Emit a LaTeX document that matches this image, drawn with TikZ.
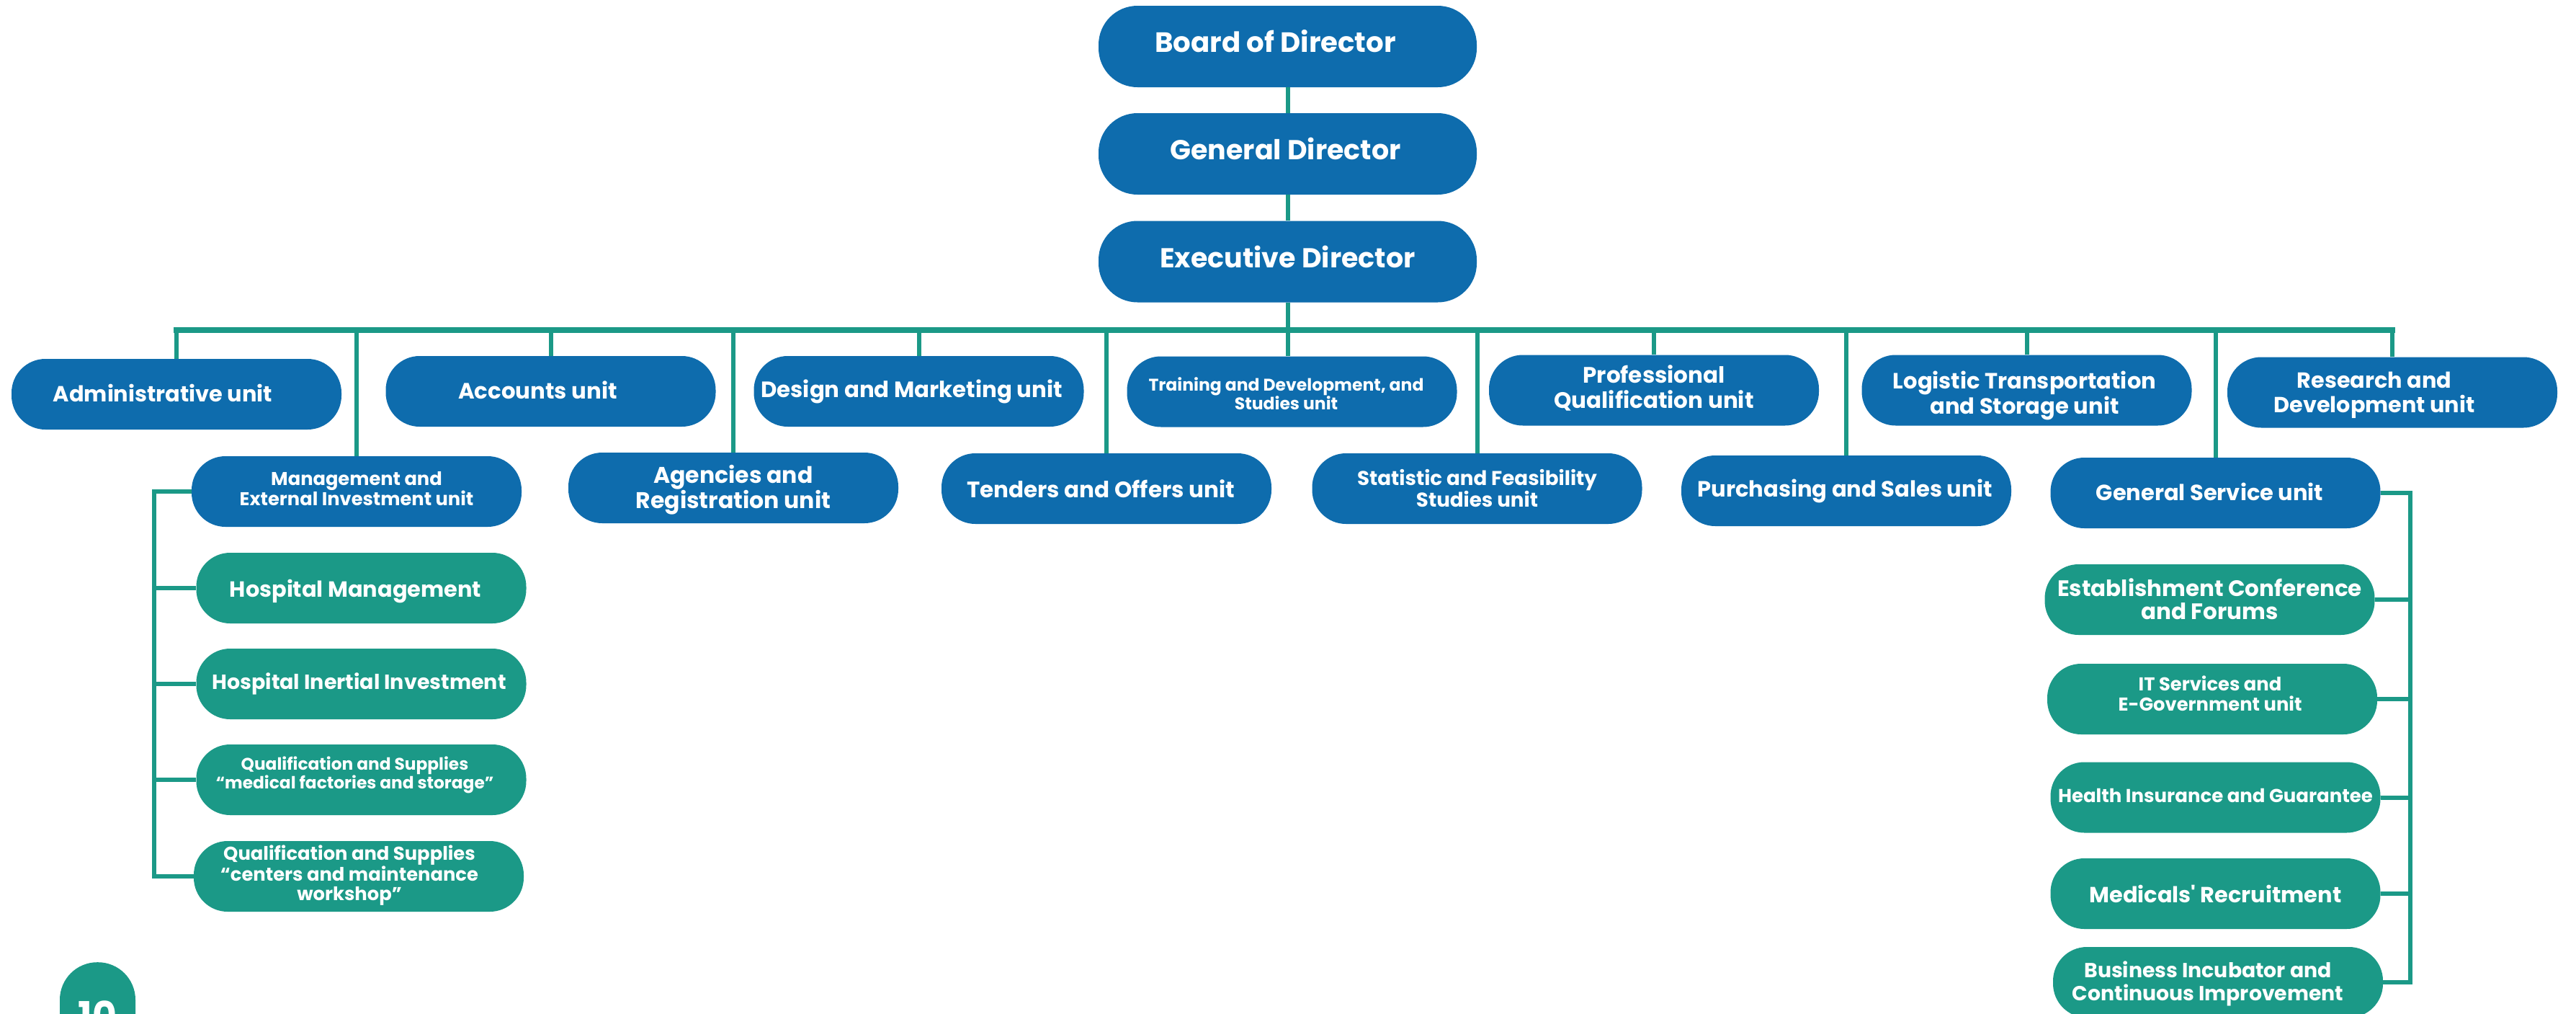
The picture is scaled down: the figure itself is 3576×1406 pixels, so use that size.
\documentclass[tikz,border=0pt]{standalone}
\usepackage{fontspec}
\setmainfont{Poppins}
\definecolor{cblue}{RGB}{14,108,173}
\definecolor{cteal}{RGB}{27,153,135}
\newcommand\ufont[2]{\fontsize{#1}{#2}\selectfont\bfseries}
% shift the printed text inside its box: #1 right, #2 up
\newcommand\mv[3]{\raisebox{#2}[\height][\depth]{\hspace*{#1}#3\hspace*{-#1}}}
\newcommand\ml[1]{\begin{tabular}{@{}c@{}}#1\end{tabular}}
\tikzset{
  unitbox/.style={rectangle, rounded corners=47pt, minimum width=458pt, minimum height=98pt,
    inner sep=0pt, text=white, fill=cblue},
  subbox/.style={unitbox, fill=cteal},
  dirbox/.style={unitbox, minimum width=525pt, minimum height=113pt, rounded corners=54pt,
    font={\ufont{38}{40}}},
  link/.style={draw=cteal, line width=6pt, line join=miter},
  busline/.style={draw=cteal, line width=8pt, line cap=rect},
}
\begin{document}
\begin{tikzpicture}[x=1pt,y=-1pt]
\useasboundingbox (0,0) rectangle (3576,1406);
\clip (0,0) rectangle (3576,1406);
\fill[white] (0,0) rectangle (3576,1406);

% directors
\node[dirbox, font={\ufont{38.7}{40}}] (board) at (1787.5,64.5) {\mv{-17pt}{7pt}{Board of Director}};
\node[dirbox] (gen) at (1787.5,213.5) {\mv{-3pt}{7pt}{General Director}};
\node[dirbox] (exec) at (1787.5,363) {\mv{0pt}{7pt}{Executive Director}};

% top row units
\node[unitbox, font={\ufont{30.4}{32}}] (admin) at (245,547) {\mv{-19pt}{2pt}{Administrative unit}};
\node[unitbox, font={\ufont{30.8}{32}}] (acc) at (764.5,543) {\mv{-18pt}{2pt}{Accounts unit}};
\node[unitbox, font={\ufont{30.8}{32}}] (design) at (1275.5,543) {\mv{-10pt}{0pt}{Design and Marketing unit}};
\node[unitbox, font={\ufont{23.5}{24}}] (train) at (1793.5,543.5) {\mv{-8pt}{-6pt}{\ml{Training and Development, and\\Studies unit}}};
\node[unitbox, font={\ufont{31}{32}}] (prof) at (2296,541.5) {\mv{0pt}{0pt}{\ml{Professional\\Qualification unit}}};
\node[unitbox, font={\ufont{30.6}{32}}] (logi) at (2813.5,541.5) {\mv{-3pt}{-8pt}{\ml{Logistic Transportation\\and Storage unit}}};
\node[unitbox, font={\ufont{30.3}{32}}] (res) at (3321,544.5) {\mv{-25pt}{-5pt}{\ml{Research and\\Development unit}}};

% second row units
\node[unitbox, font={\ufont{25.7}{25.5}}] (mgmt) at (495,682) {\mv{0pt}{0pt}{\ml{Management and\\External Investment unit}}};
\node[unitbox, font={\ufont{31.5}{32}}] (agen) at (1018,677) {\mv{0pt}{-3pt}{\ml{Agencies and\\Registration unit}}};
\node[unitbox, font={\ufont{31}{32}}] (tend) at (1536,678) {\mv{-8pt}{0pt}{Tenders and Offers unit}};
\node[unitbox, font={\ufont{27.7}{26}}] (stat) at (2050.5,678) {\mv{0pt}{-3pt}{\ml{Statistic and Feasibility\\Studies unit}}};
\node[unitbox, font={\ufont{30.6}{32}}] (purch) at (2563,681) {\mv{-2pt}{0pt}{Purchasing and Sales unit}};
\node[unitbox, font={\ufont{30.5}{32}}] (gs) at (3075.5,684) {\mv{-8pt}{2pt}{General Service unit}};

% left sub units
\node[subbox, font={\ufont{30.4}{32}}] (hm) at (501.5,816) {\mv{-8pt}{-4pt}{Hospital Management}};
\node[subbox, font={\ufont{28.5}{30}}] (hii) at (501.5,949) {\mv{-3pt}{0pt}{Hospital Inertial Investment}};
\node[subbox, font={\ufont{23.3}{24}}] (qa) at (501.5,1082) {\mv{-9pt}{6pt}{\ml{Qualification and Supplies\\“medical factories and storage”}}};
\node[subbox, font={\ufont{25.8}{26}}] (qb) at (498,1216) {\mv{-13pt}{1pt}{\ml{Qualification and Supplies\\“centers and maintenance\\workshop”}}};

% right sub units
\node[subbox, font={\ufont{31}{32}}] (est) at (3067.5,832) {\mv{0pt}{-4pt}{\ml{Establishment Conference\\and Forums}}};
\node[subbox, font={\ufont{25.8}{26}}] (it) at (3071,970) {\mv{-3pt}{4pt}{\ml{IT Services and\\E-Government unit}}};
\node[subbox, font={\ufont{26}{27}}] (health) at (3075.5,1106.5) {\mv{0pt}{3pt}{Health Insurance and Guarantee}};
\node[subbox, font={\ufont{30.4}{32}}] (med) at (3075.5,1240) {\mv{0pt}{0pt}{Medicals\textquotesingle{} Recruitment}};
\node[subbox, font={\ufont{28.3}{31}}] (biz) at (3079,1363) {\mv{-14pt}{-3pt}{\ml{Business Incubator and\\Continuous Improvement}}};

% page badge
\node[rectangle, rounded corners=52pt, fill=cteal, minimum width=105pt, minimum height=200pt,
  anchor=north, inner sep=0pt] (pg) at (135.5,1335) {};
\node[text=white, font={\ufont{52}{52}}, anchor=north, inner sep=0pt] (pgnum) at (135.5,1389) {10};

% connectors
\coordinate (busy) at (0,458);
\coordinate (lb) at (214,0);
\coordinate (rb) at (3346,0);
\draw[link] (board.south) -- (gen.north);
\draw[link] (gen.south) -- (exec.north);
\draw[link] (exec.south) -- (exec.south |- busy);
\draw[busline] (admin.north |- busy) -- (res.north |- busy);
\foreach \n in {admin,acc,design,prof,logi,res,mgmt,agen,tend,stat,purch,gs}
  \draw[link] (\n.north) -- (\n.north |- busy);
\draw[link] (exec.south |- busy) -- (exec.south |- train.north);

\draw[link] (mgmt.west) -- (mgmt.west -| lb) -- (qb.west -| lb) -- (qb.west);
\foreach \n in {hm,hii,qa}
  \draw[link] (\n.west) -- (\n.west -| lb);
\draw[link] (gs.east) -- (gs.east -| rb) -- (biz.east -| rb) -- (biz.east);
\foreach \n in {est,it,health,med}
  \draw[link] (\n.east) -- (\n.east -| rb);
\end{tikzpicture}
\end{document}
